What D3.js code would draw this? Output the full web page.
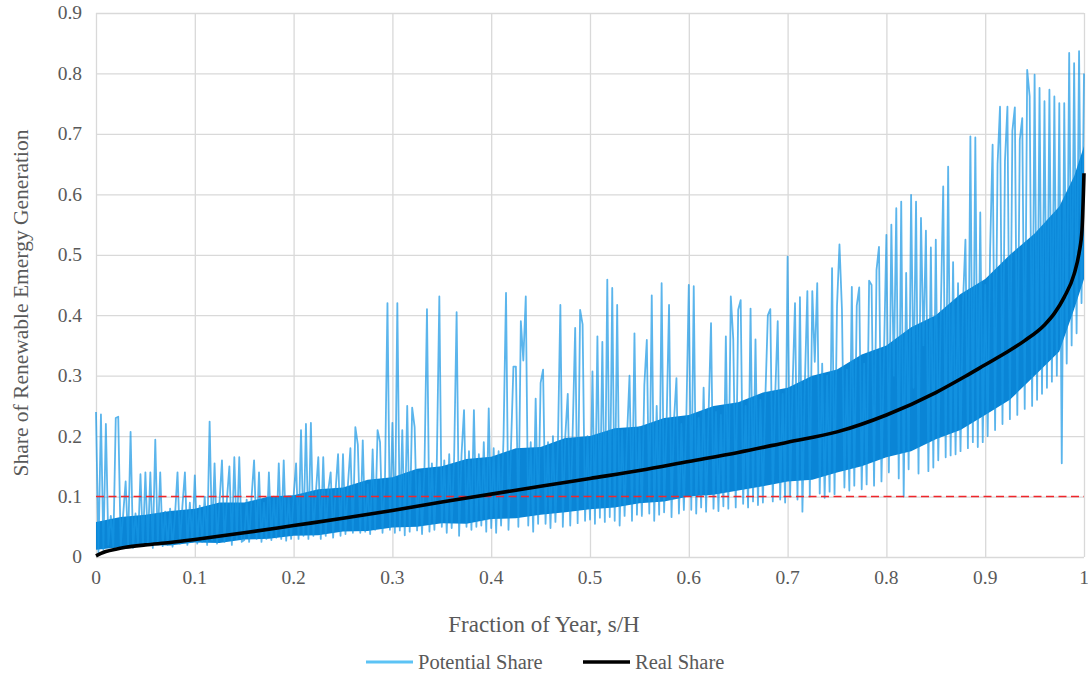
<!DOCTYPE html>
<html>
<head>
<meta charset="utf-8">
<script src="https://cdn.jsdelivr.net/npm/d3@7"></script>
<style>
  html, body { margin: 0; padding: 0; background: #fff; }
  svg text { font-family: "Liberation Serif", "Times New Roman", serif; fill: #595959; }
</style>
</head>
<body>
<svg id="chart" width="1088" height="676"></svg>
<script>
// ---------- Data ----------
// Potential share: 401 samples, evenly spaced over s/H = 0 .. 1 (step 0.0025)
const potentialShare = [
  // 0.00 - 0.05
  0.24, 0.005, 0.236, 0.012, 0.22, 0.02, 0.068, 0.015, 0.23, 0.232, 0.018, 0.07, 0.125, 0.02, 0.207, 0.015, 0.072, 0.022, 0.137, 0.018,
  // 0.05 - 0.10
  0.14, 0.02, 0.14, 0.015, 0.194, 0.022, 0.14, 0.018, 0.075, 0.02, 0.08, 0.017, 0.07, 0.14, 0.022, 0.085, 0.14, 0.02, 0.09, 0.025,
  // 0.10 - 0.15
  0.135, 0.022, 0.085, 0.025, 0.1, 0.02, 0.224, 0.028, 0.155, 0.022, 0.09, 0.16, 0.025, 0.095, 0.15, 0.02, 0.165, 0.03, 0.165, 0.025,
  // 0.15 - 0.20
  0.028, 0.095, 0.025, 0.1, 0.16, 0.03, 0.14, 0.025, 0.09, 0.03, 0.14, 0.028, 0.1, 0.032, 0.155, 0.03, 0.16, 0.027, 0.1, 0.03,
  // 0.20 - 0.25
  0.1, 0.155, 0.03, 0.21, 0.035, 0.22, 0.03, 0.222, 0.035, 0.105, 0.165, 0.03, 0.165, 0.035, 0.11, 0.14, 0.032, 0.11, 0.17, 0.035,
  // 0.25 - 0.30
  0.17, 0.038, 0.12, 0.18, 0.04, 0.215, 0.186, 0.04, 0.193, 0.042, 0.12, 0.038, 0.178, 0.045, 0.21, 0.19, 0.04, 0.13, 0.42, 0.045,
  // 0.30 - 0.35
  0.222, 0.04, 0.42, 0.044, 0.21, 0.036, 0.25, 0.042, 0.247, 0.215, 0.044, 0.14, 0.038, 0.15, 0.41, 0.042, 0.155, 0.045, 0.16, 0.431,
  // 0.35 - 0.40
  0.05, 0.16, 0.04, 0.17, 0.048, 0.165, 0.405, 0.035, 0.17, 0.243, 0.05, 0.175, 0.045, 0.243, 0.05, 0.17, 0.052, 0.19, 0.042, 0.246,
  // 0.40 - 0.45
  0.048, 0.18, 0.04, 0.175, 0.052, 0.2, 0.437, 0.045, 0.18, 0.315, 0.315, 0.05, 0.39, 0.325, 0.431, 0.052, 0.19, 0.042, 0.262, 0.055,
  // 0.45 - 0.50
  0.288, 0.31, 0.055, 0.19, 0.048, 0.2, 0.058, 0.185, 0.417, 0.05, 0.2, 0.27, 0.052, 0.21, 0.379, 0.056, 0.409, 0.385, 0.06, 0.2,
  // 0.50 - 0.55
  0.062, 0.307, 0.055, 0.365, 0.065, 0.356, 0.058, 0.459, 0.066, 0.445, 0.06, 0.417, 0.052, 0.21, 0.068, 0.2, 0.3, 0.06, 0.37, 0.07,
  // 0.55 - 0.60
  0.215, 0.068, 0.285, 0.359, 0.072, 0.433, 0.06, 0.25, 0.07, 0.453, 0.074, 0.22, 0.417, 0.066, 0.225, 0.296, 0.072, 0.22, 0.078, 0.23,
  // 0.60 - 0.65
  0.45, 0.078, 0.448, 0.072, 0.23, 0.082, 0.28, 0.075, 0.235, 0.387, 0.08, 0.24, 0.076, 0.235, 0.084, 0.365, 0.08, 0.431, 0.36, 0.082,
  // 0.65 - 0.70
  0.409, 0.425, 0.088, 0.25, 0.082, 0.411, 0.092, 0.36, 0.086, 0.26, 0.09, 0.265, 0.4, 0.41, 0.092, 0.27, 0.39, 0.095, 0.27, 0.09,
  // 0.70 - 0.75
  0.497, 0.1, 0.28, 0.42, 0.095, 0.43, 0.075, 0.29, 0.44, 0.1, 0.44, 0.323, 0.453, 0.105, 0.32, 0.098, 0.3, 0.108, 0.478, 0.104,
  // 0.75 - 0.80
  0.415, 0.517, 0.41, 0.115, 0.31, 0.11, 0.447, 0.118, 0.416, 0.446, 0.112, 0.32, 0.12, 0.457, 0.45, 0.118, 0.475, 0.513, 0.125, 0.33,
  // 0.80 - 0.85
  0.533, 0.14, 0.55, 0.3, 0.577, 0.13, 0.588, 0.1, 0.47, 0.145, 0.599, 0.28, 0.588, 0.138, 0.561, 0.35, 0.54, 0.142, 0.512, 0.148,
  // 0.85 - 0.90
  0.525, 0.16, 0.4, 0.613, 0.165, 0.646, 0.168, 0.488, 0.17, 0.453, 0.175, 0.42, 0.525, 0.18, 0.696, 0.19, 0.694, 0.182, 0.57, 0.19,
  // 0.90 - 0.95
  0.45, 0.2, 0.51, 0.682, 0.21, 0.65, 0.745, 0.22, 0.655, 0.745, 0.228, 0.705, 0.744, 0.235, 0.69, 0.726, 0.245, 0.806, 0.762, 0.25,
  // 0.95 - 1.00
  0.798, 0.26, 0.776, 0.27, 0.754, 0.28, 0.773, 0.29, 0.762, 0.3, 0.751, 0.155, 0.751, 0.32, 0.834, 0.35, 0.817, 0.37, 0.837, 0.42,
  0.8
];

// Where the hourly traces overlap into a solid band (lower / upper edge)
const bandX = [0, 0.025, 0.05, 0.075, 0.1, 0.125, 0.15, 0.175, 0.2, 0.225, 0.25, 0.275, 0.3, 0.325, 0.35, 0.375, 0.4, 0.425, 0.45, 0.475,
               0.5, 0.525, 0.55, 0.575, 0.6, 0.625, 0.65, 0.675, 0.7, 0.725, 0.75, 0.775, 0.8, 0.825, 0.85, 0.875, 0.9, 0.925, 0.95, 0.975, 0.99, 1];
const bandLow = [0.012, 0.016, 0.02, 0.019, 0.024, 0.023, 0.029, 0.03, 0.035, 0.036, 0.042, 0.043, 0.049, 0.05, 0.056, 0.055, 0.063, 0.064, 0.07, 0.074,
                 0.079, 0.082, 0.089, 0.092, 0.1, 0.103, 0.11, 0.117, 0.125, 0.128, 0.14, 0.15, 0.165, 0.175, 0.195, 0.21, 0.235, 0.26, 0.3, 0.34, 0.41, 0.46];
const bandHigh = [0.058, 0.066, 0.07, 0.076, 0.08, 0.09, 0.09, 0.1, 0.102, 0.112, 0.115, 0.128, 0.132, 0.146, 0.15, 0.162, 0.166, 0.18, 0.182, 0.197,
                  0.2, 0.213, 0.216, 0.23, 0.235, 0.25, 0.256, 0.272, 0.28, 0.3, 0.31, 0.335, 0.35, 0.38, 0.4, 0.435, 0.46, 0.5, 0.535, 0.58, 0.63, 0.68];

// Real share: smooth duration curve
const realX = [0, 0.005, 0.01, 0.02, 0.03, 0.05, 0.075, 0.1, 0.15, 0.2, 0.25, 0.3, 0.35, 0.4, 0.45, 0.5, 0.55, 0.6, 0.65,
               0.7, 0.75, 0.8, 0.85, 0.88, 0.9, 0.92, 0.94, 0.96, 0.97, 0.98, 0.99, 0.995, 0.998, 1];
const realY = [0.002, 0.006, 0.009, 0.013, 0.016, 0.02, 0.024, 0.029, 0.04, 0.052, 0.064, 0.077, 0.091, 0.104, 0.117, 0.13, 0.143, 0.158, 0.173,
               0.19, 0.207, 0.235, 0.272, 0.299, 0.318, 0.337, 0.358, 0.384, 0.403, 0.43, 0.468, 0.503, 0.542, 0.635];

const thresholdShare = 0.1;

const xTicks = [0, 0.1, 0.2, 0.3, 0.4, 0.5, 0.6, 0.7, 0.8, 0.9, 1];
const yTicks = [0, 0.1, 0.2, 0.3, 0.4, 0.5, 0.6, 0.7, 0.8, 0.9];

const seriesNames = ['Potential Share', 'Real Share'];

// ---------- Layout ----------
const FONT = '"Liberation Serif", "Times New Roman", serif';
const svg = d3.select('#chart').attr('font-family', FONT);
const plot = { left: 96, right: 1084, top: 13, bottom: 557 };

const x = d3.scaleLinear().domain([0, 1]).range([plot.left, plot.right]);
const y = d3.scaleLinear().domain([0, 0.9]).range([plot.bottom, plot.top]);

const GRID = '#d9d9d9';

// ---------- Grid ----------
svg.append('g')
    .attr('transform', `translate(0,${plot.bottom})`)
    .call(d3.axisBottom(x).tickValues(xTicks).tickSize(-(plot.bottom - plot.top)).tickFormat(''))
    .call(g => g.selectAll('line').attr('stroke', GRID).attr('stroke-width', 1.3))
    .call(g => g.select('.domain').remove());

svg.append('g')
    .attr('transform', `translate(${plot.left},0)`)
    .call(d3.axisLeft(y).tickValues(yTicks).tickSize(-(plot.right - plot.left)).tickFormat(''))
    .call(g => g.selectAll('line').attr('stroke', GRID).attr('stroke-width', 1.3))
    .call(g => g.select('.domain').remove());

// ---------- Potential share ----------
const band = d3.area()
    .x((d, i) => x(bandX[i]))
    .y0(d => y(d))
    .y1((d, i) => y(bandHigh[i]));

svg.append('path')
    .datum(bandLow)
    .attr('d', band)
    .attr('fill', '#0a85d6');

const potentialLine = d3.line()
    .x((d, i) => x(i / (potentialShare.length - 1)))
    .y(d => y(d));

svg.append('path')
    .datum(potentialShare)
    .attr('d', potentialLine)
    .attr('fill', 'none')
    .attr('stroke', '#1596e4')
    .attr('stroke-opacity', 0.7)
    .attr('stroke-width', 1.8)
    .attr('stroke-linejoin', 'round');

// ---------- 10 % threshold ----------
svg.append('line')
    .attr('x1', x(0)).attr('x2', x(1))
    .attr('y1', y(thresholdShare)).attr('y2', y(thresholdShare))
    .attr('stroke', '#f0262b')
    .attr('stroke-width', 1.6)
    .attr('stroke-dasharray', '8,4.5');

// ---------- Real share ----------
const realLine = d3.line()
    .x((d, i) => x(realX[i]))
    .y(d => y(d))
    .curve(d3.curveMonotoneX);

svg.append('path')
    .datum(realY)
    .attr('d', realLine)
    .attr('fill', 'none')
    .attr('stroke', '#000')
    .attr('stroke-width', 3.6);

// ---------- Axis labels ----------
svg.append('g')
    .selectAll('text')
    .data(xTicks)
    .join('text')
    .attr('x', d => x(d))
    .attr('y', 584)
    .attr('text-anchor', 'middle')
    .attr('font-size', 19.5)
    .text(d => d3.format('~g')(d));

svg.append('g')
    .selectAll('text')
    .data(yTicks)
    .join('text')
    .attr('x', 82)
    .attr('y', d => y(d))
    .attr('dy', '0.33em')
    .attr('text-anchor', 'end')
    .attr('font-size', 19.5)
    .text(d => d3.format('~g')(d));

svg.append('text')
    .attr('x', 544)
    .attr('y', 632)
    .attr('text-anchor', 'middle')
    .attr('font-size', 23)
    .text('Fraction of Year, s/H');

svg.append('text')
    .attr('transform', 'translate(28,303) rotate(-90)')
    .attr('text-anchor', 'middle')
    .attr('font-size', 21.5)
    .text('Share of Renewable Emergy Generation');

// ---------- Legend ----------
const legend = svg.append('g').attr('transform', 'translate(0,662)');
const legendItems = [
    { name: seriesNames[0], x0: 366, color: '#5cc3f5', width: 3 },
    { name: seriesNames[1], x0: 583, color: '#000', width: 3.6 }
];
legendItems.forEach(it => {
    legend.append('line')
        .attr('x1', it.x0).attr('x2', it.x0 + 47)
        .attr('y1', 0).attr('y2', 0)
        .attr('stroke', it.color)
        .attr('stroke-width', it.width);
    legend.append('text')
        .attr('x', it.x0 + 52)
        .attr('dy', '0.33em')
        .attr('font-size', 20.5)
        .text(it.name);
});
</script>
</body>
</html>
